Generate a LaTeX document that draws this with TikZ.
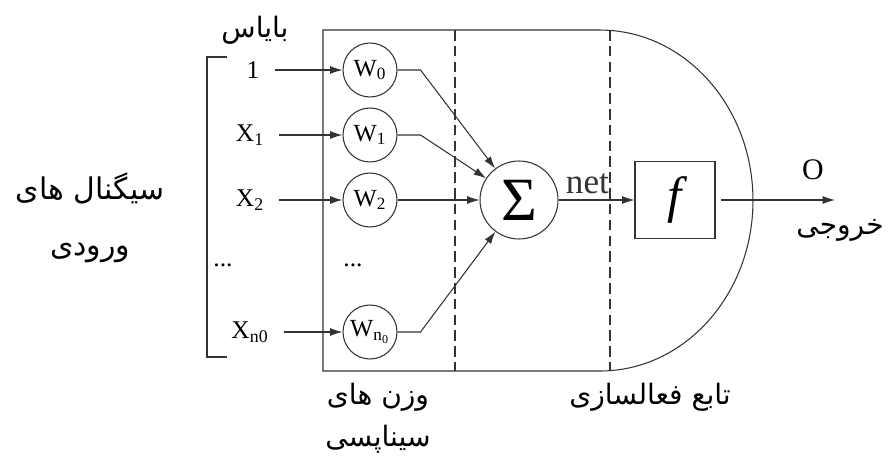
\documentclass[tikz,border=0pt]{standalone}
\usepackage{fontspec}
\setmainfont{Liberation Serif}[ItalicFont={Liberation Serif Italic}]
\newfontfamily\tnr{Liberation Serif}[ItalicFont={Liberation Serif Italic}]
\newfontfamily\fafont[Script=Arabic]{DejaVu Sans}
\TeXXeTstate=1
\usetikzlibrary{arrows.meta}
\definecolor{ink}{HTML}{333333}

\begin{document}
\begin{tikzpicture}[x=0.02cm, y=-0.02cm, line width=0.6pt,
    sig/.style={-{Latex[length=7pt,width=4.5pt]}, ink},
    wcirc/.style={circle, draw=ink, minimum size=1.08cm, inner sep=0pt, font=\tnr\fontsize{14}{16}\selectfont},
    inp/.style={font=\tnr\fontsize{14.5}{17}\selectfont},
    fa/.style={font=\fafont\fontsize{16}{24}\selectfont, align=center}]
  \useasboundingbox (0,0) rectangle (888,459);

  % Body of the neuron
  \draw[ink] (600,30) -- (323,30) -- (323,371) -- (600,371)
    arc[start angle=-90, end angle=90, x radius=3.06cm, y radius=3.41cm] -- cycle;
  \draw[ink, dash pattern=on 6pt off 3pt] (455,30) -- (455,371);
  \draw[ink, dash pattern=on 6pt off 3pt] (610,30) -- (610,371);

  % Input bracket
  \draw[ink] (227,57) -- (207,57) -- (207,357) -- (227,357);

  % Inputs
  \node[inp] (x0) at (253,70) {1};
  \node[inp] (x1) at (250,135) {X\textsubscript{1}};
  \node[inp] (x2) at (250,200) {X\textsubscript{2}};
  \node[inp] (xd) at (223,265) {...};
  \node[inp] (xn) at (250,332) {X\textsubscript{n0}};

  % Synaptic weights
  \node[wcirc] (w0) at (370,70) {W\textsubscript{0}};
  \node[wcirc] (w1) at (370,135) {W\textsubscript{1}};
  \node[wcirc] (w2) at (370,200) {W\textsubscript{2}};
  \node[inp] (wd) at (353,265) {...};
  \node[wcirc] (wn) at (370,332) {W\textsubscript{n\textsubscript{0}}};

  % Summation and activation
  \node[circle, draw=ink, minimum size=1.56cm, inner sep=0pt, font=\tnr\fontsize{35}{35}\selectfont] (sum) at (519,200) {Σ};
  \node[draw=ink, minimum width=1.6cm, minimum height=1.54cm, font=\tnr\fontsize{29}{29}\selectfont\itshape] (act) at (675,200) {f};
  \coordinate (out) at (835,200);
  \node[font=\tnr\fontsize{17}{20}\selectfont] (olbl) at (813,170) {O};

  % Connections
  \foreach \i in {0,1,2,n}
    \draw[sig, shorten <=5pt] (x\i) -- (w\i);
  \draw[sig] (w0.east) -- ++(23,0) -- (sum);
  \draw[sig] (w1.east) -- ++(23,0) -- (sum);
  \draw[sig] (w2) -- (sum);
  \draw[sig] (wn.east) -- ++(23,0) -- (sum);
  \draw[sig] (sum) -- node[above, pos=0.38, font=\tnr\fontsize{20}{20}\selectfont] {net} (act);
  \draw[sig, shorten <=3pt] (act) -- (out);

  % Persian labels
  \node[fa] (bias) at (255,30) {\beginR بایاس\endR};
  \node[fa, font=\fafont\fontsize{17}{32}\selectfont] (inlbl) at (90,218) {\beginR سیگنال های\endR\\\beginR ورودی\endR};
  \node[fa] (wlbl) at (378,418) {\beginR وزن های\endR\\\beginR سیناپسی\endR};
  \node[fa] (actlbl) at (650,397) {\beginR تابع فعالسازی\endR};
  \node[fa] (outlbl) at (840,230) {\beginR خروجی\endR};
\end{tikzpicture}
\end{document}
